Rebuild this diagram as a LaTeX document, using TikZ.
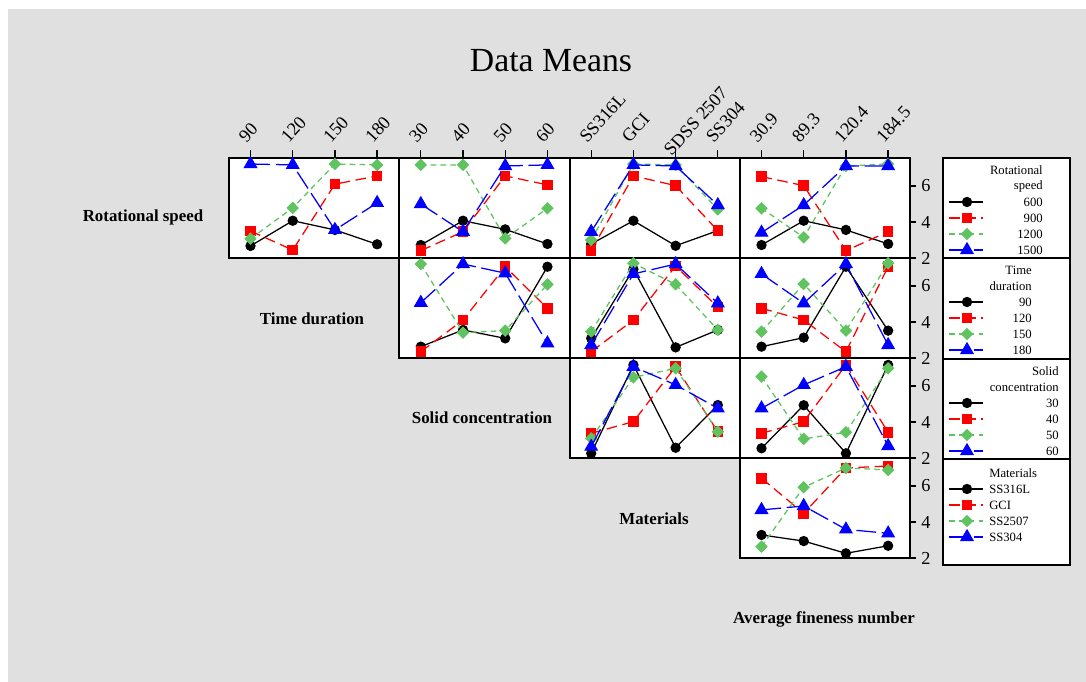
\documentclass[tikz,border=0pt]{standalone}
\usepackage{fontspec}
\setmainfont{Liberation Serif}
\usetikzlibrary{plotmarks}

\definecolor{bggray}{RGB}{224,224,224}
\definecolor{lgreen}{RGB}{95,195,95}

\tikzset{
	panel/.style={draw=black,line width=1.2pt,fill=white},
	legbox/.style={draw=black,line width=1.2pt,fill=white},
	lev1/.style={black,line width=0.9pt,mark=*,mark size=3.2pt,mark options={solid,fill=black}},
	lev2/.style={red,line width=0.9pt,dash pattern=on 7.5pt off 4pt,mark=square*,mark size=3.3pt,mark options={solid,fill=red}},
	lev3/.style={lgreen,line width=0.9pt,dash pattern=on 4pt off 3pt,mark=diamond*,mark size=3.8pt,mark options={solid,fill=lgreen,xscale=1.33}},
	lev4/.style={blue,line width=0.9pt,dash pattern=on 14pt off 4pt,mark=triangle*,mark size=4.9pt,mark options={solid,fill=blue}},
	rowlab/.style={font=\bfseries\fontsize{12}{14}\selectfont},
	ticklab/.style={font=\fontsize{13}{15}\selectfont,inner sep=1pt},
	leglab/.style={font=\fontsize{9}{10}\selectfont,inner sep=0pt},
	tickmark/.style={line width=0.9pt}
}

\begin{document}
\begin{tikzpicture}[x=0.025cm,y=-0.025cm]
	\useasboundingbox (0,0) rectangle (1086,682);
	\fill[white] (0,0) rectangle (1086,682);
	\fill[bggray] (8,9) rectangle (1086,682);

	\node[font=\fontsize{24}{28}\selectfont] (title) at (551,61) {Data Means};

	\node[rowlab] (rs) at (143,217) {Rotational speed};
	\node[rowlab] (td) at (312,319) {Time duration};
	\node[rowlab] (sc) at (482,418) {Solid concentration};
	\node[rowlab] (mat) at (654,519) {Materials};
	\node[rowlab] (afn) at (824,619) {Average fineness number};

	% panels
	\draw[panel] (229,158) rectangle (910,258);
	\draw[panel] (399.3,258) rectangle (910,358);
	\draw[panel] (569.7,358) rectangle (910,458);
	\draw[panel] (740,458) rectangle (910,558);
	\draw[line width=1.2pt] (399.3,158) -- (399.3,358);
	\draw[line width=1.2pt] (569.7,158) -- (569.7,458);
	\draw[line width=1.2pt] (740,158) -- (740,558);

	% top ticks
	\foreach \x/\t/\yy [count=\i] in {250.5/90/145, 292.7/120/145, 334.9/150/145, 377.1/180/145,
		420.8/30/145, 463.0/40/145, 505.2/50/145, 547.4/60/145,
		591.2/SS316L/145, 633.4/GCI/145, 675.6/SDSS 2507/158, 717.8/SS304/145,
		761.5/30.9/145, 803.7/89.3/145, 845.9/120.4/145, 888.1/184.5/145} {
		\draw[tickmark] (\x,158) -- (\x,150);
		\node[ticklab,rotate=48,anchor=base west] (top\i) at (\x-5,\yy) {\t};
	}

	% right ticks
	\foreach \b in {258,358,458,558} {
		\foreach \v/\d in {2/0,4/36,6/72} {
			\draw[tickmark] (910,\b-\d) -- (916,\b-\d);
			\node[ticklab] (r\b\v) at (926,\b-\d) {\v};
		}
	}

	% row 1
	\begin{scope}[shift={(250.5,258)},x=1.055cm,y=0.45cm,yshift=-0.9cm]
		\draw[lev1] plot coordinates {(0,2.67) (1,4.07) (2,3.56) (3,2.76)};
		\draw[lev2] plot coordinates {(0,3.50) (1,2.44) (2,6.10) (3,6.56)};
		\draw[lev3] plot coordinates {(0,3.07) (1,4.78) (2,7.22) (3,7.17)};
		\draw[lev4] plot coordinates {(0,7.22) (1,7.17) (2,3.56) (3,5.06)};
	\end{scope}
	\begin{scope}[shift={(420.8,258)},x=1.055cm,y=0.45cm,yshift=-0.9cm]
		\draw[lev1] plot coordinates {(0,2.72) (1,4.07) (2,3.59) (3,2.78)};
		\draw[lev2] plot coordinates {(0,2.41) (1,3.46) (2,6.56) (3,6.06)};
		\draw[lev3] plot coordinates {(0,7.17) (1,7.17) (2,3.09) (3,4.76)};
		\draw[lev4] plot coordinates {(0,5.00) (1,3.46) (2,7.11) (3,7.17)};
	\end{scope}
	\begin{scope}[shift={(591.2,258)},x=1.055cm,y=0.45cm,yshift=-0.9cm]
		\draw[lev1] plot coordinates {(0,2.78) (1,4.07) (2,2.68) (3,3.52)};
		\draw[lev2] plot coordinates {(0,2.41) (1,6.56) (2,6.02) (3,3.52)};
		\draw[lev3] plot coordinates {(0,3.00) (1,7.22) (2,7.17) (3,4.70)};
		\draw[lev4] plot coordinates {(0,3.46) (1,7.17) (2,7.11) (3,4.94)};
	\end{scope}
	\begin{scope}[shift={(761.5,258)},x=1.055cm,y=0.45cm,yshift=-0.9cm]
		\draw[lev1] plot coordinates {(0,2.72) (1,4.07) (2,3.56) (3,2.78)};
		\draw[lev2] plot coordinates {(0,6.52) (1,6.02) (2,2.41) (3,3.46)};
		\draw[lev3] plot coordinates {(0,4.76) (1,3.15) (2,7.11) (3,7.22)};
		\draw[lev4] plot coordinates {(0,3.41) (1,4.94) (2,7.11) (3,7.11)};
	\end{scope}

	% row 2
	\begin{scope}[shift={(420.8,358)},x=1.055cm,y=0.45cm,yshift=-0.9cm]
		\draw[lev1] plot coordinates {(0,2.63) (1,3.56) (2,3.09) (3,7.07)};
		\draw[lev2] plot coordinates {(0,2.35) (1,4.11) (2,7.07) (3,4.76)};
		\draw[lev3] plot coordinates {(0,7.22) (1,3.41) (2,3.52) (3,6.09)};
		\draw[lev4] plot coordinates {(0,5.07) (1,7.22) (2,6.71) (3,2.82)};
	\end{scope}
	\begin{scope}[shift={(591.2,358)},x=1.055cm,y=0.45cm,yshift=-0.9cm]
		\draw[lev1] plot coordinates {(0,3.09) (1,6.93) (2,2.59) (3,3.56)};
		\draw[lev2] plot coordinates {(0,2.35) (1,4.11) (2,7.11) (3,4.82)};
		\draw[lev3] plot coordinates {(0,3.46) (1,7.26) (2,6.09) (3,3.56)};
		\draw[lev4] plot coordinates {(0,2.72) (1,6.67) (2,7.22) (3,5.04)};
	\end{scope}
	\begin{scope}[shift={(761.5,358)},x=1.055cm,y=0.45cm,yshift=-0.9cm]
		\draw[lev1] plot coordinates {(0,2.63) (1,3.13) (2,7.07) (3,3.52)};
		\draw[lev2] plot coordinates {(0,4.76) (1,4.11) (2,2.35) (3,7.07)};
		\draw[lev3] plot coordinates {(0,3.46) (1,6.11) (2,3.52) (3,7.26)};
		\draw[lev4] plot coordinates {(0,6.67) (1,5.04) (2,7.22) (3,2.72)};
	\end{scope}

	% row 3
	\begin{scope}[shift={(591.2,458)},x=1.055cm,y=0.45cm,yshift=-0.9cm]
		\draw[lev1] plot coordinates {(0,2.26) (1,7.17) (2,2.57) (3,4.94)};
		\draw[lev2] plot coordinates {(0,3.37) (1,4.02) (2,7.07) (3,3.46)};
		\draw[lev3] plot coordinates {(0,3.09) (1,6.48) (2,6.98) (3,3.46)};
		\draw[lev4] plot coordinates {(0,2.63) (1,7.07) (2,6.06) (3,4.76)};
	\end{scope}
	\begin{scope}[shift={(761.5,458)},x=1.055cm,y=0.45cm,yshift=-0.9cm]
		\draw[lev1] plot coordinates {(0,2.54) (1,4.93) (2,2.26) (3,7.17)};
		\draw[lev2] plot coordinates {(0,3.37) (1,4.02) (2,7.17) (3,3.43)};
		\draw[lev3] plot coordinates {(0,6.52) (1,3.06) (2,3.43) (3,6.98)};
		\draw[lev4] plot coordinates {(0,4.76) (1,6.06) (2,7.07) (3,2.67)};
	\end{scope}

	% row 4
	\begin{scope}[shift={(761.5,558)},x=1.055cm,y=0.45cm,yshift=-0.9cm]
		\draw[lev1] plot coordinates {(0,3.28) (1,2.94) (2,2.26) (3,2.68)};
		\draw[lev2] plot coordinates {(0,6.43) (1,4.48) (2,7.00) (3,7.11)};
		\draw[lev3] plot coordinates {(0,2.63) (1,5.93) (2,7.00) (3,6.89)};
		\draw[lev4] plot coordinates {(0,4.67) (1,4.89) (2,3.59) (3,3.37)};
	\end{scope}

	% legends
	\draw[legbox] (943,158) rectangle (1070,258);
	\draw[legbox] (943,258) rectangle (1070,359);
	\draw[legbox] (943,359) rectangle (1070,459);
	\draw[legbox] (943,459) rectangle (1070,565);

	\node[leglab,anchor=east] (l1a) at (1043,170) {Rotational};
	\node[leglab,anchor=east] (l1b) at (1043,186) {speed};
	\node[leglab,anchor=east] (l2a) at (1032,270) {Time};
	\node[leglab,anchor=east] (l2b) at (1032,286) {duration};
	\node[leglab,anchor=east] (l3a) at (1059,371) {Solid};
	\node[leglab,anchor=east] (l3b) at (1059,387) {concentration};
	\node[leglab,anchor=west] (l4a) at (989,473) {Materials};

	\foreach \s/\yy/\t/\xe/\an [count=\i] in {
		lev1/202/600/1043/east, lev2/218/900/1043/east, lev3/234/1200/1043/east, lev4/250/1500/1043/east,
		lev1/302/90/1032/east, lev2/318/120/1032/east, lev3/334/150/1032/east, lev4/350/180/1032/east,
		lev1/403/30/1059/east, lev2/419/40/1059/east, lev3/435/50/1059/east, lev4/451/60/1059/east,
		lev1/489/SS316L/989/west, lev2/505/GCI/989/west, lev3/521/SS2507/989/west, lev4/537/SS304/989/west} {
		\draw[\s,mark indices={2}] plot coordinates {(949,\yy) (967,\yy) (983,\yy)};
		\node[leglab,anchor=\an] (e\i) at (\xe,\yy) {\t};
	}
\end{tikzpicture}
\end{document}
